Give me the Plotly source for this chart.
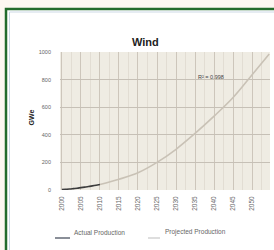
import plotly.graph_objects as go

# ---- data ----
actual_years = [2000, 2001, 2002, 2003, 2004, 2005, 2006, 2007, 2008, 2009, 2010]
actual_values = [3, 5, 7, 10, 13, 17, 21, 25, 30, 35, 40]

projected_years = [2010, 2015, 2020, 2025, 2030, 2035, 2040, 2045, 2050, 2054.5]
projected_values = [40, 78, 125, 200, 295, 410, 535, 670, 835, 985]

tick_years = [2000, 2005, 2010, 2015, 2020, 2025, 2030, 2035, 2040, 2045, 2050]
tick_labels = [str(y) for y in tick_years]
y_ticks = [0, 200, 400, 600, 800, 1000]

W, H = 274, 250
ML, MR, MT, MB = 60, 4, 52, 60
PW = W - ML - MR
PH = H - MT - MB


def px(x):
    return (x - ML) / PW


def py(y):
    return (H - MB - y) / PH


fig = go.Figure()
fig.add_trace(go.Scatter(x=projected_years, y=projected_values, mode="lines",
                         line=dict(color="#c9c2b6", width=1.6, shape="spline"),
                         name="Projected Production", showlegend=False))
fig.add_trace(go.Scatter(x=actual_years, y=actual_values, mode="lines",
                         line=dict(color="#3c3c3c", width=1.6, shape="spline"),
                         name="Actual Production", showlegend=False))

shapes = [
    # green frame
    dict(type="rect", xref="paper", yref="paper", x0=px(6), x1=px(282), y0=py(9), y1=py(262),
         line=dict(color="#236b2c", width=2.5), fillcolor="#ffffff", layer="below"),
    # inner panel edge
    dict(type="rect", xref="paper", yref="paper", x0=px(9.5), x1=px(280), y0=py(12), y1=py(262),
         line=dict(color="#cdd9e6", width=1), fillcolor="#ffffff", layer="below"),
    # plot area
    dict(type="rect", xref="paper", yref="paper", x0=0, x1=1, y0=0, y1=1,
         line=dict(width=0), fillcolor="#efece3", layer="below"),
    # legend lines
    dict(type="line", xref="paper", yref="paper", x0=px(55), x1=px(70), y0=py(238), y1=py(238),
         line=dict(color="#8a8f98", width=2)),
    dict(type="line", xref="paper", yref="paper", x0=px(148), x1=px(160), y0=py(238), y1=py(238),
         line=dict(color="#c8c8c8", width=1.2)),
]

annotations = [
    dict(text="<b>Wind</b>", xref="paper", yref="paper", x=px(145), y=py(34), showarrow=False,
         font=dict(family="Liberation Sans", size=11, color="#222222")),
    dict(text="<b>GWe</b>", xref="paper", yref="paper", x=px(25), y=py(118), showarrow=False,
         textangle=-90, font=dict(family="Liberation Sans", size=7, color="#222222")),
    dict(text="R² = 0.998", xref="paper", yref="paper", x=px(226), y=py(72), showarrow=False,
         font=dict(family="Liberation Sans", size=5.5, color="#444444")),
    dict(text="Actual Production", xref="paper", yref="paper", x=px(72), y=py(238), showarrow=False,
         xanchor="left", font=dict(family="Liberation Sans", size=6.5, color="#666666")),
    dict(text="Projected Production", xref="paper", yref="paper", x=px(163), y=py(238), showarrow=False,
         xanchor="left", font=dict(family="Liberation Sans", size=6.5, color="#666666")),
]

fig.update_layout(
    width=W, height=H,
    margin=dict(l=ML, r=MR, t=MT, b=MB, pad=0),
    paper_bgcolor="#fcf7f1",
    plot_bgcolor="rgba(0,0,0,0)",
    shapes=shapes,
    annotations=annotations,
    showlegend=False,
)
fig.update_xaxes(range=[1999.5, 2054.7], tickvals=tick_years, ticktext=tick_labels,
                 tickangle=-90, showgrid=True, gridcolor="#cdc6bb", gridwidth=1,
                 minor=dict(dtick=2.5, tick0=2000, showgrid=True, gridcolor="#e2ddd3", gridwidth=1),
                 tickfont=dict(family="Liberation Sans", size=6.5, color="#666666"),
                 ticklabelstandoff=4, zeroline=False, showline=False)
fig.update_yaxes(range=[0, 1000], tickvals=y_ticks, showgrid=True, gridcolor="#c6c0b6",
                 gridwidth=1, tickfont=dict(family="Liberation Sans", size=5.5, color="#666666"),
                 ticklabelstandoff=8, zeroline=False, showline=False)

fig.write_html("out.html", config={"displayModeBar": False},
               post_script="document.body.style.margin='0';document.body.style.overflow='hidden';")
